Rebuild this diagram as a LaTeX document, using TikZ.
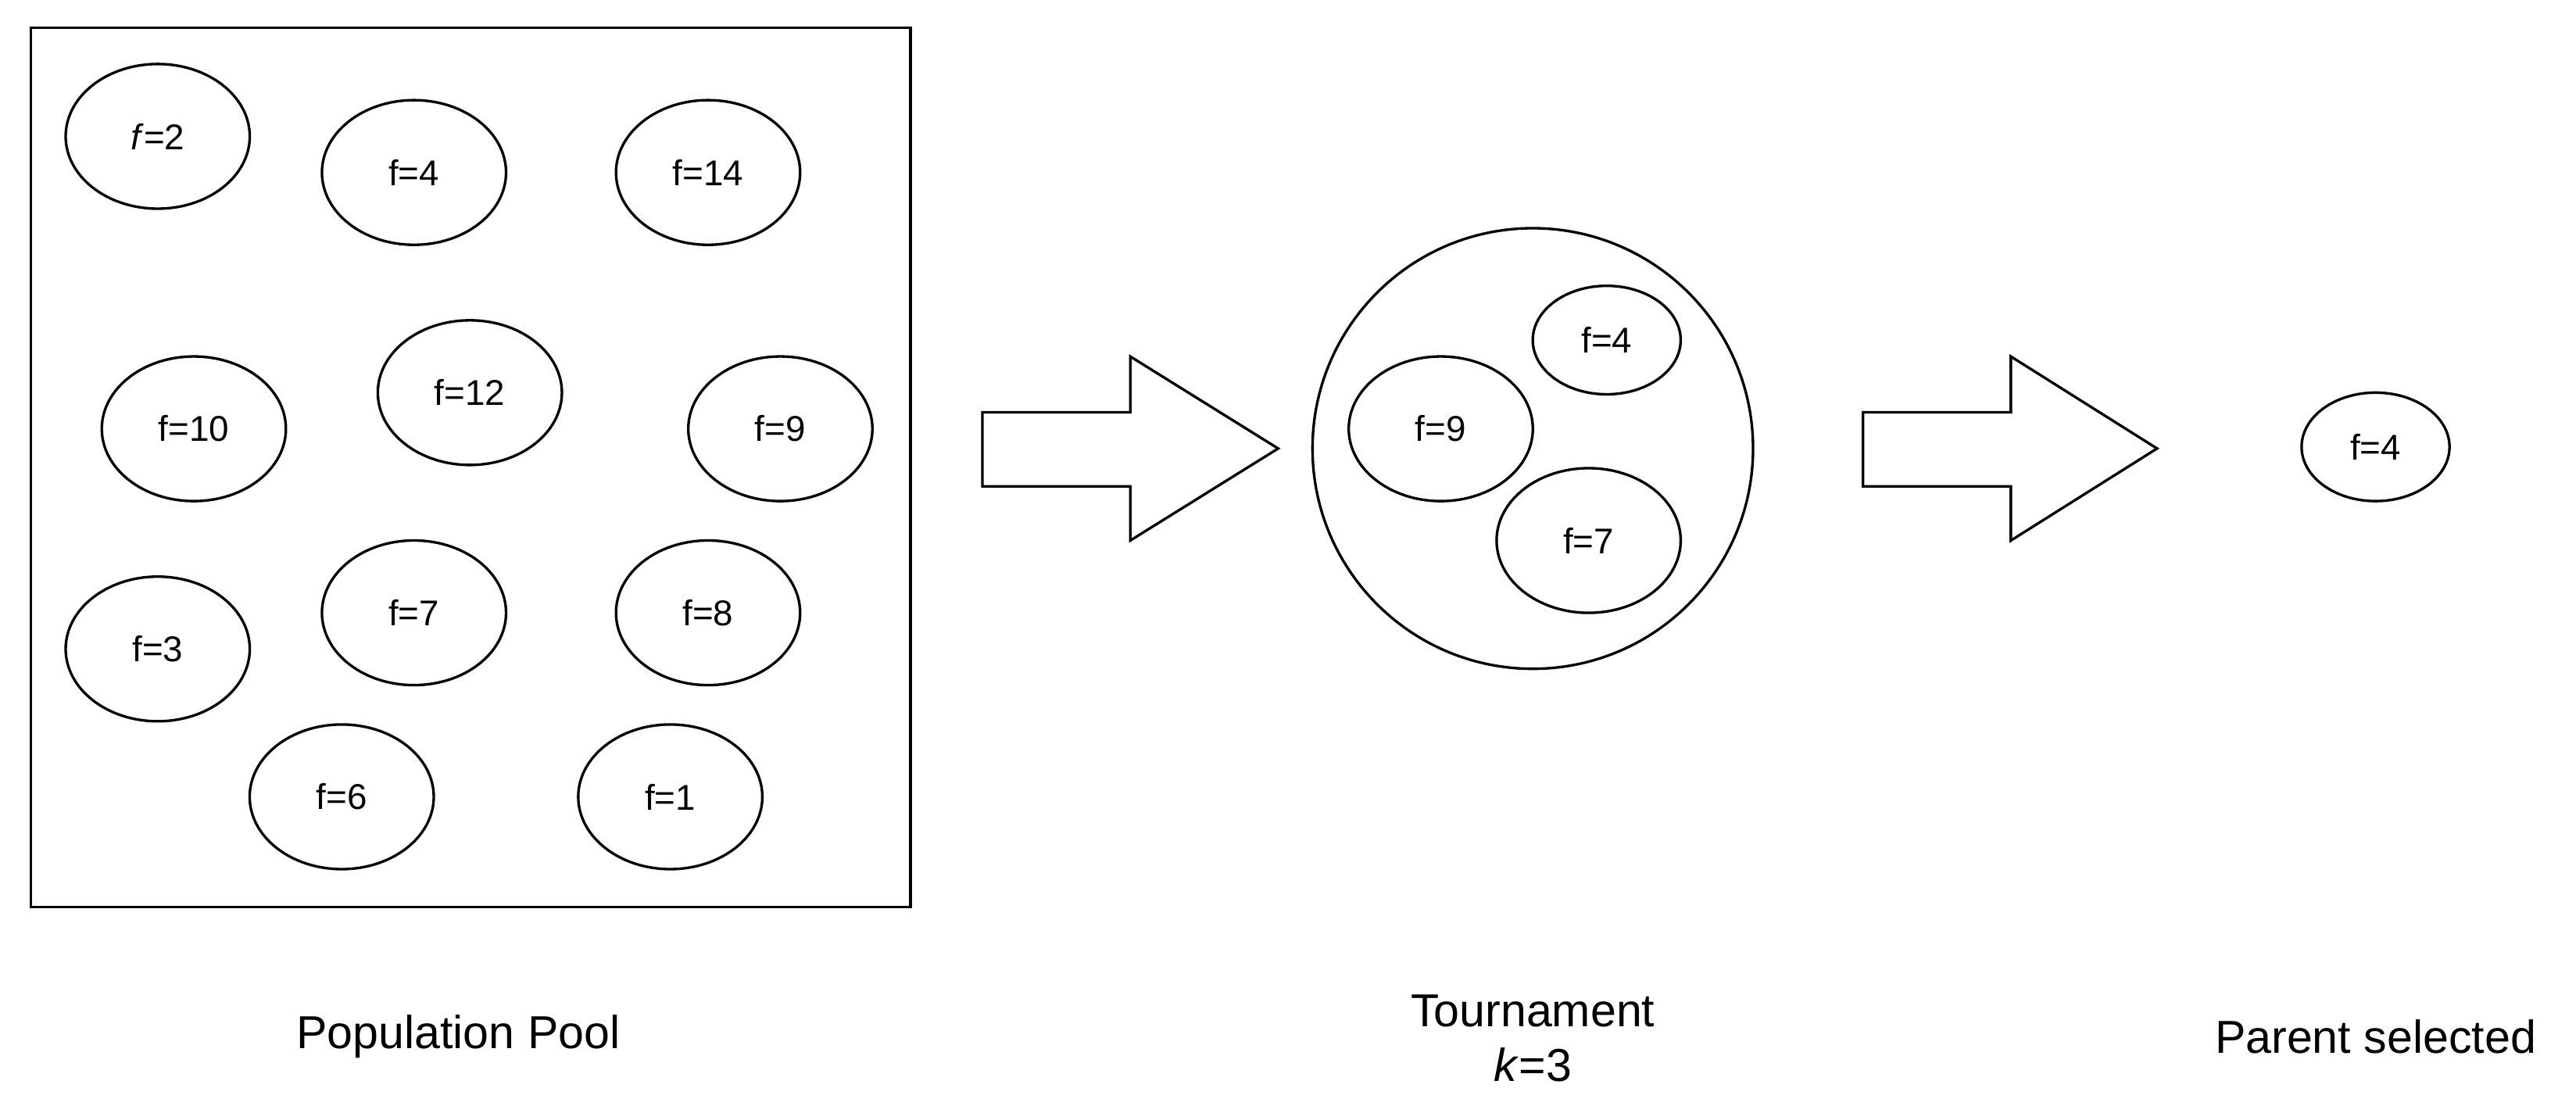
\documentclass[tikz,border=0pt]{standalone}
\usetikzlibrary{shapes.geometric}
\usepackage{fontspec}
\setmainfont{Liberation Sans}
\begin{document}
\begin{tikzpicture}[x=0.01cm,y=-0.01cm,line width=0.45pt,
  ind/.style={draw,ellipse,minimum width=1.12cm,minimum height=0.88cm,inner sep=0pt,font=\fontsize{6.2}{7}\selectfont},
  sind/.style={ind,minimum width=0.9cm,minimum height=0.66cm},
  lab/.style={font=\fontsize{8}{9.6}\selectfont,align=center}]
\useasboundingbox (0,0) rectangle (1568,677);
\node[draw,minimum width=5.35cm,minimum height=5.35cm,inner sep=0pt] (pool) at (286.5,284.5) {};
\node[ind] (a) at (96,83) {\textit{f}=2};
\node[ind] (b) at (252,105) {f=4};
\node[ind] (c) at (431,105) {f=14};
\node[ind] (d) at (118,261) {f=10};
\node[ind] (e) at (286,239) {f=12};
\node[ind] (g) at (475,261) {f=9};
\node[ind] (h) at (96,395) {f=3};
\node[ind] (i) at (252,373) {f=7};
\node[ind] (j) at (431,373) {f=8};
\node[ind] (k) at (208,485) {f=6};
\node[ind] (l) at (408,485) {f=1};
\draw (598,251) -- (688,251) -- (688,217) -- (778,273) -- (688,329) -- (688,296) -- (598,296) -- cycle;
\node[draw,circle,minimum size=2.68cm,inner sep=0pt] (tour) at (933,273) {};
\node[sind] (t1) at (978,207) {f=4};
\node[ind] (t2) at (877,261) {f=9};
\node[ind] (t3) at (967,329) {f=7};
\draw (1134,251) -- (1224,251) -- (1224,217) -- (1313,273) -- (1224,329) -- (1224,296) -- (1134,296) -- cycle;
\node[sind] (p) at (1446,272) {f=4};
\node[lab] (l1) at (279,631) {Population Pool};
\node[lab] (l2) at (933,632) {Tournament\\\textit{k}=3};
\node[lab] (l3) at (1446,631) {Parent selected};
\end{tikzpicture}
\end{document}
